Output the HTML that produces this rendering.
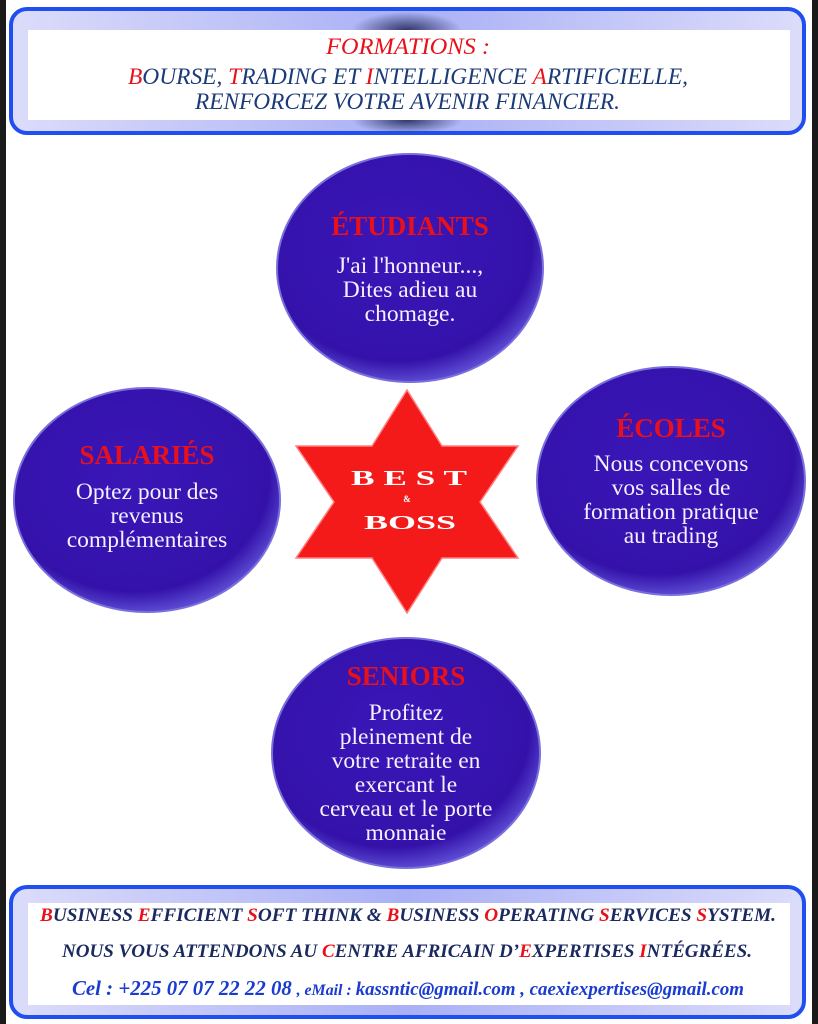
<!DOCTYPE html>
<html><head><meta charset="utf-8"><style>
html,body{margin:0;padding:0;background:#fff;}
svg{display:block;}
</style></head><body>
<svg width="818" height="1024" viewBox="0 0 818 1024" xmlns="http://www.w3.org/2000/svg" font-family="Liberation Serif, serif">
<defs>
<linearGradient id="hb" x1="0" x2="1" y1="0" y2="0">
<stop offset="0" stop-color="#dcdcfa"/><stop offset="0.5" stop-color="#a9b0f5"/><stop offset="1" stop-color="#dcdcfa"/>
</linearGradient>
<radialGradient id="sh" cx="0.5" cy="0.5" r="0.5">
<stop offset="0" stop-color="#30386a"/><stop offset="1" stop-color="#30386a" stop-opacity="0"/>
</radialGradient>
<radialGradient id="el" cx="0.45" cy="0.4" r="0.6">
<stop offset="0" stop-color="#3a16b8"/><stop offset="0.85" stop-color="#3412aa"/><stop offset="1" stop-color="#5a48d0"/>
</radialGradient>
</defs>
<rect x="0" y="0" width="6" height="1024" fill="#1a1a1a"/>
<rect x="812" y="0" width="6" height="1024" fill="#1a1a1a"/>

<!-- top box -->
<rect x="11" y="9" width="793" height="124" rx="16" fill="url(#hb)" stroke="#1f4ff0" stroke-width="4"/>
<ellipse cx="407" cy="30" rx="55" ry="18" fill="url(#sh)"/>
<ellipse cx="407" cy="120" rx="55" ry="14" fill="url(#sh)"/>
<rect x="28" y="30" width="762" height="90" fill="#fff"/>
<text x="326" y="54" font-size="23" font-style="italic" fill="#e8101a" textLength="164" lengthAdjust="spacingAndGlyphs">FORMATIONS :</text>
<text x="128" y="84" font-size="23" font-style="italic" fill="#1a3a78" textLength="560" lengthAdjust="spacingAndGlyphs"><tspan fill="#e8101a">B</tspan>OURSE,  <tspan fill="#e8101a">T</tspan>RADING  ET  <tspan fill="#e8101a">I</tspan>NTELLIGENCE  <tspan fill="#e8101a">A</tspan>RTIFICIELLE,</text>
<text x="195" y="109" font-size="23" font-style="italic" fill="#1a3a78" textLength="425" lengthAdjust="spacingAndGlyphs">RENFORCEZ  VOTRE  AVENIR  FINANCIER.</text>

<!-- ellipses -->
<g stroke="#7a70dd" stroke-width="2">
<ellipse cx="410" cy="268" rx="133" ry="114" fill="url(#el)"/>
<ellipse cx="147" cy="500" rx="133" ry="112" fill="url(#el)"/>
<ellipse cx="671" cy="481" rx="134" ry="114" fill="url(#el)"/>
<ellipse cx="406" cy="753" rx="134" ry="115" fill="url(#el)"/>
</g>
<g text-anchor="middle">
<g font-size="27" font-weight="bold" fill="#e8101a">
<text x="410" y="235">ÉTUDIANTS</text>
<text x="147" y="464">SALARIÉS</text>
<text x="671" y="437">ÉCOLES</text>
<text x="406" y="685">SENIORS</text>
</g>
<g font-size="23.5" fill="#f4f0ff">
<text x="410" y="273">J'ai l'honneur...,</text>
<text x="410" y="297">Dites adieu au</text>
<text x="410" y="321">chomage.</text>
<text x="147" y="499">Optez pour des</text>
<text x="147" y="523">revenus</text>
<text x="147" y="547">complémentaires</text>
<text x="671" y="471">Nous concevons</text>
<text x="671" y="495">vos salles de</text>
<text x="671" y="519">formation pratique</text>
<text x="671" y="543">au trading</text>
<text x="406" y="720">Profitez</text>
<text x="406" y="744">pleinement de</text>
<text x="406" y="768">votre retraite en</text>
<text x="406" y="792">exercant le</text>
<text x="406" y="816">cerveau et le porte</text>
<text x="406" y="840">monnaie</text>
</g>
</g>

<!-- star -->
<polygon points="407,390 442,446 518,446 480,502 518,558 442,558 407,613 372,558 296,558 334,502 296,446 372,446" fill="#f41a1a" stroke="#ff8080" stroke-width="1.5"/>
<g text-anchor="middle" fill="#fff" font-weight="bold">
<text x="409" y="485" font-size="21" textLength="116" lengthAdjust="spacingAndGlyphs">B E S T</text>
<text x="407" y="502" font-size="9">&amp;</text>
<text x="410" y="529" font-size="20" textLength="92" lengthAdjust="spacingAndGlyphs">BOSS</text>
</g>

<!-- bottom box -->
<rect x="11" y="887" width="793" height="130" rx="16" fill="url(#hb)" stroke="#1f4ff0" stroke-width="4"/>
<rect x="28" y="903" width="762" height="102" fill="#fff"/>
<g font-style="italic" font-weight="bold" font-size="19" fill="#1a2a60">
<text x="40" y="921" textLength="736" lengthAdjust="spacingAndGlyphs"><tspan fill="#e8101a">B</tspan>USINESS  <tspan fill="#e8101a">E</tspan>FFICIENT <tspan fill="#e8101a">S</tspan>OFT THINK  &amp;  <tspan fill="#e8101a">B</tspan>USINESS <tspan fill="#e8101a">O</tspan>PERATING <tspan fill="#e8101a">S</tspan>ERVICES <tspan fill="#e8101a">S</tspan>YSTEM.</text>
<text x="62" y="957" textLength="690" lengthAdjust="spacingAndGlyphs">NOUS VOUS ATTENDONS AU  <tspan fill="#e8101a">C</tspan>ENTRE AFRICAIN D’<tspan fill="#e8101a">E</tspan>XPERTISES <tspan fill="#e8101a">I</tspan>NTÉGRÉES.</text>
<text x="72" y="995" fill="#1a3cd0" textLength="672" lengthAdjust="spacingAndGlyphs"><tspan font-size="21">Cel : +225 07 07 22 22 08</tspan>  <tspan font-size="16">, eMail : </tspan>kassntic@gmail.com ,  caexiexpertises@gmail.com</text>
</g>
</svg>
</body></html>
